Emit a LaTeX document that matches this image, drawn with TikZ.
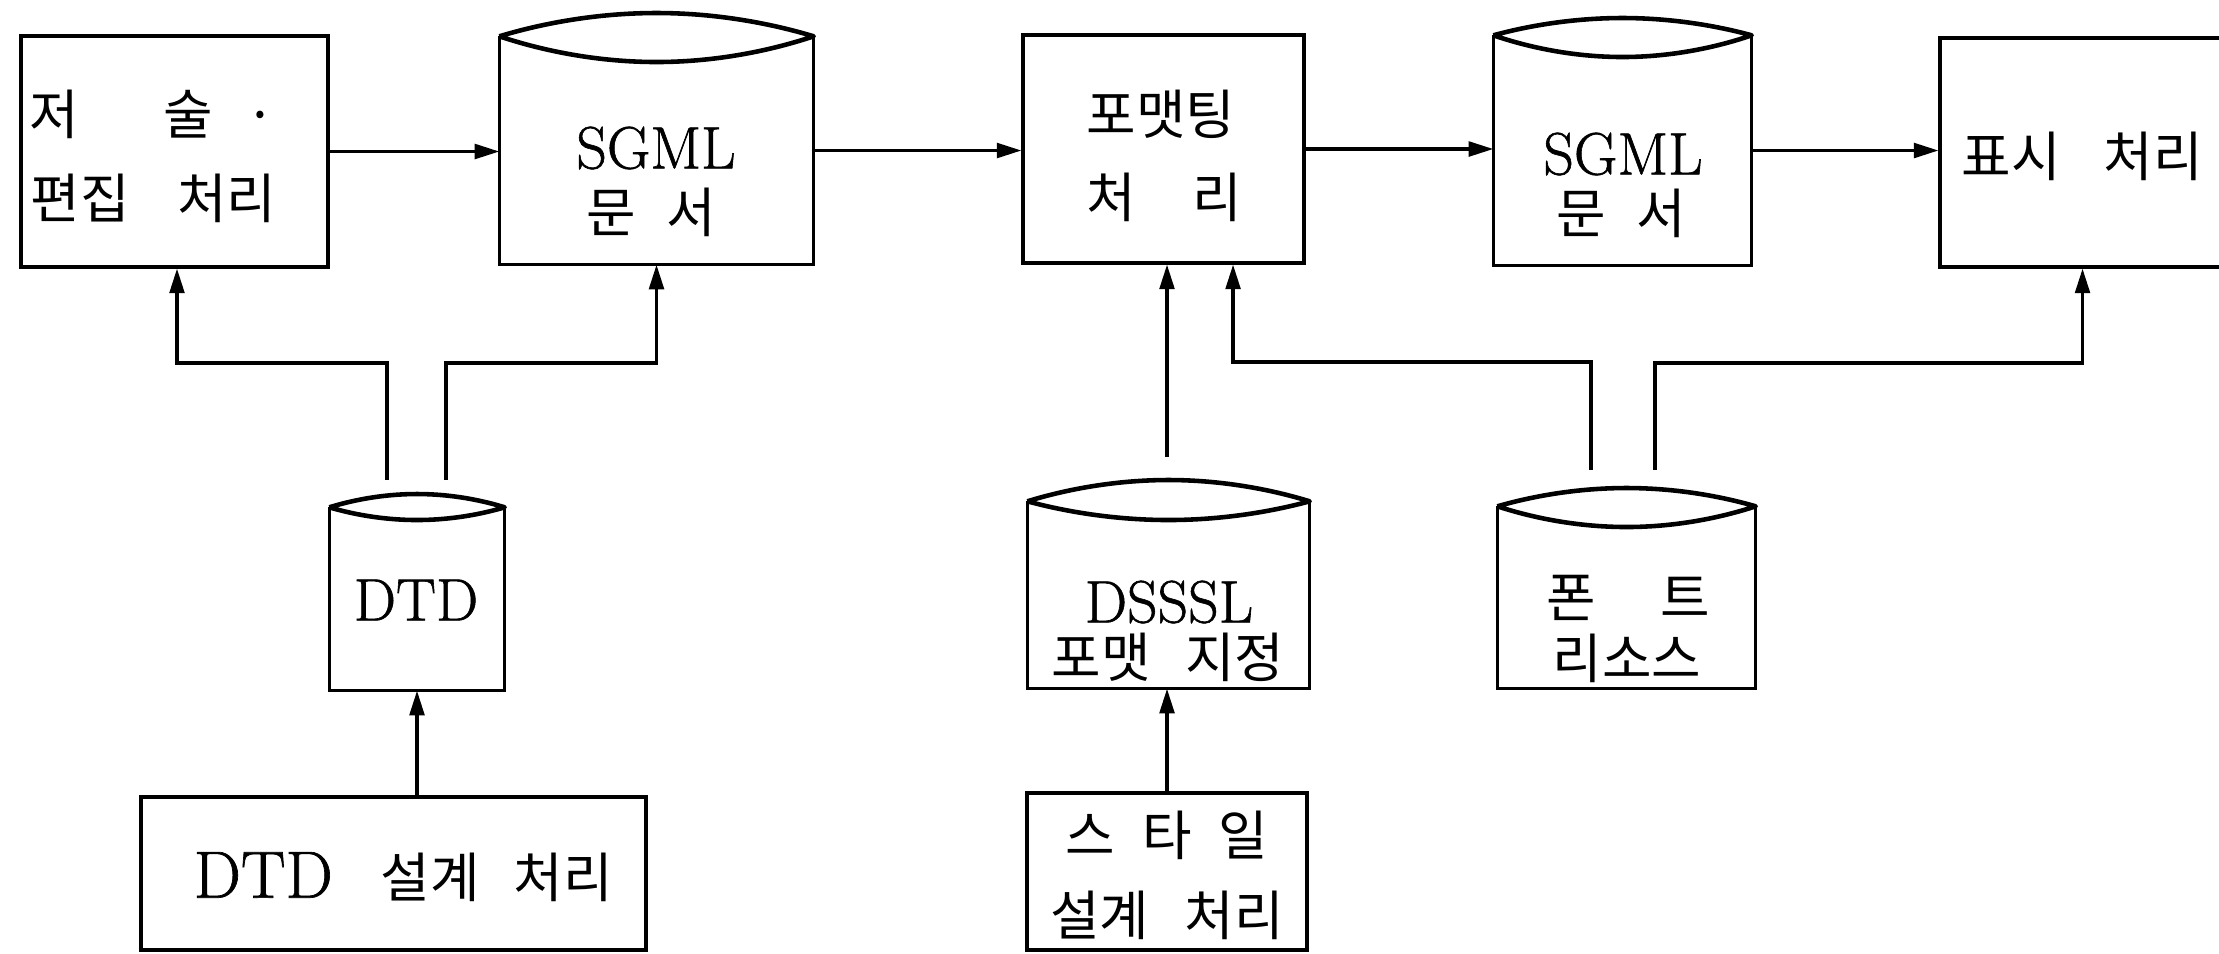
\documentclass[tikz,border=0pt]{standalone}
\usepackage{fontspec}
\newfontfamily\kr{Noto Sans CJK KR}
\newfontfamily\lm[FakeBold=1.0]{Latin Modern Roman}
\usetikzlibrary{arrows.meta,fit}

% text faces
\newcommand\hk{\kr\fontsize{15.3}{18}\selectfont}
\newcommand\hl{\lm\fontsize{17}{20}\selectfont}

\tikzset{
  thin line/.style={line width=0.9pt},
  procbox/.style={draw, rectangle, inner sep=0pt, line width=0.9pt},
  storebody/.style={rectangle, inner sep=0pt},
  rim/.style={line width=1.3pt, line join=round},
  flow/.style={line width=0.9pt, -{Triangle[length=7pt,width=4.2pt]}},
  lat/.style={font=\hl, inner sep=0pt},
  han/.style={font=\hk, inner sep=0pt},
}

% data store: flat-bottomed drum with a lens-shaped lid
% #1 name, #2 left x, #3 right x, #4 rim y, #5 lid top y, #6 lid bottom y, #7 base y
\newcommand\store[7]{%
  \node[storebody, fit={(#2,#4) (#3,#7)}] (#1) {};
  \draw[thin line] (#1.north west) -- (#1.south west) -- (#1.south east) -- (#1.north east);
  \draw[rim] (#1.north west) parabola bend ({(#2+#3)/2},#5) (#1.north east)
             parabola bend ({(#2+#3)/2},#6) (#1.north west);
}

\begin{document}
\begin{tikzpicture}[x=0.01cm, y=-0.01cm]
  \useasboundingbox (0,0) rectangle (2219,953);
  \fill[white] (0,0) rectangle (2219,953);
  \clip (0,0) rectangle (2219,953);

  % processes
  \node[procbox, fit={(21,36) (328,267)}] (edit) {};
  \node[procbox, fit={(1023,35) (1304,263)}] (fmt) {};
  \node[procbox, fit={(1940,38) (2300,267)}] (show) {};
  \node[procbox, fit={(141,797) (646,950)}] (dtddes) {};
  \node[procbox, fit={(1027,793) (1307,950)}] (styledes) {};

  % stores
  \store{sgml1}{500}{813}{37}{13}{62}{264}
  \store{sgml2}{1494}{1751}{36}{18}{57}{265}
  \store{dtd}{330}{504}{508}{494}{520}{690}
  \store{dsssl}{1028}{1309}{502}{480}{520}{688}
  \store{font}{1498}{1755}{507}{488}{527}{688}

  % labels
  \node[han, anchor=west] (tA1) at (29,114) {저\hspace{1.57em}술\hspace{0.6em}·};
  \node[han, anchor=west] (tA2) at (30,198) {편집\hspace{0.88em}처리};
  \node[lat] (tB1) at (656,148) {SGML};
  \node[han] (tB2) at (651,212) {문\hspace{0.56em}서};
  \node[han] (tC1) at (1161,114) {포맷팅};
  \node[han] (tC2) at (1164,197) {처\hspace{1.05em}리};
  \node[lat] (tD1) at (1623,154) {SGML};
  \node[han] (tD2) at (1621,213) {문\hspace{0.56em}서};
  \node[han, anchor=west] (tE) at (1961,156) {표시\hspace{0.8em}처리};
  \node[lat] (tDTD) at (416,600) {DTD};
  \node[lat, anchor=west] (tF) at (193,877) {\fontsize{19}{22}\selectfont DTD\hspace{0.72em}{\hk 설계\hspace{0.63em}처리}};
  \node[lat] (tG1) at (1169,602) {DSSSL};
  \node[han] (tG2) at (1168,657) {포맷\hspace{0.65em}지정};
  \node[han] (tH1) at (1167,835) {스\hspace{0.5em}타\hspace{0.5em}일};
  \node[han] (tH2) at (1167,915) {설계\hspace{0.66em}처리};
  \node[han] (tI1) at (1628,598) {폰\hspace{1.2em}트};
  \node[han] (tI2) at (1627,658) {리소스};

  % free ends of the feeder lines above the lower stores
  \coordinate (dtdL) at (387,480);
  \coordinate (dtdR) at (446,480);
  \coordinate (dssslT) at (1167,457);
  \coordinate (fontL) at (1591,470);
  \coordinate (fontR) at (1655,470);

  % main flow
  \draw[flow] (edit.east) -- (edit.east -| sgml1.west);
  \draw[flow] (sgml1.east) -- (sgml1.east -| fmt.west);
  \draw[flow] (fmt.east) -- (fmt.east -| sgml2.west);
  \draw[flow] (sgml2.east) -- (sgml2.east -| show.west);

  % DTD feeds
  \draw[flow] (dtdL) -- ++(0,-117) -| ([xshift=0.025cm]edit.south);
  \draw[flow] (dtdR) -- ++(0,-117) -| (sgml1.south);
  \draw[flow] (dtd.south |- dtddes.north) -- (dtd.south);

  % style and font feeds
  \draw[flow] (dssslT) -- (dssslT |- fmt.south);
  \draw[flow] (styledes.north) -- (styledes.north |- dsssl.south);
  \draw[flow] (fontL) -- ++(0,-108) -| ([xshift=0.695cm]fmt.south);
  \draw[flow] (fontR) -- ++(0,-107) -| ([xshift=1.44cm]show.south west);
\end{tikzpicture}
\end{document}
